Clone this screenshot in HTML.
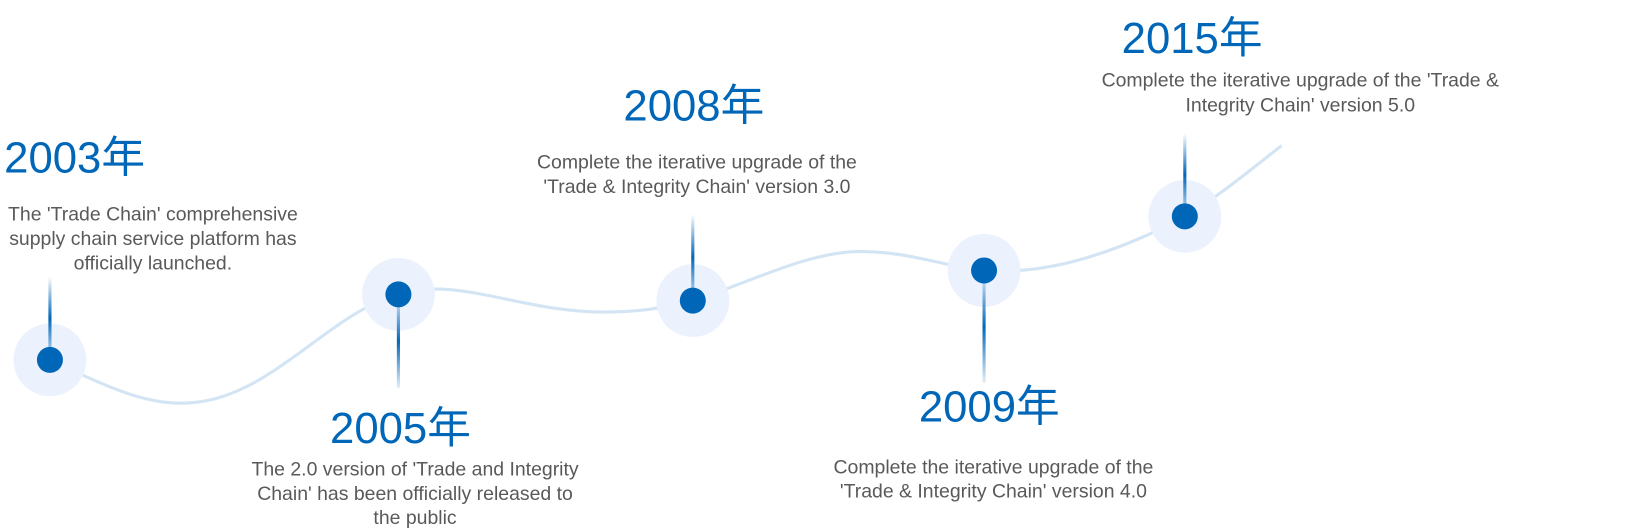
<!DOCTYPE html>
<html><head><meta charset="utf-8"><style>
html,body{margin:0;padding:0;background:#fff;}
svg{display:block}
.y{font-family:"Liberation Sans","Noto Sans CJK SC",sans-serif;font-size:42px;fill:#0066b8;}
.d{font-family:"Liberation Sans",sans-serif;font-size:18.7px;fill:#595959;}
</style></head><body>
<svg width="1629" height="531" viewBox="0 0 1566 510.5" preserveAspectRatio="none" xmlns="http://www.w3.org/2000/svg">
<defs>
<linearGradient id="gv" x1="0" y1="0" x2="0" y2="1">
<stop offset="0" stop-color="#0066b8" stop-opacity="0"/>
<stop offset="0.5" stop-color="#0066b8"/>
<stop offset="1" stop-color="#0066b8" stop-opacity="0.1"/>
</linearGradient>
</defs>
<path d="M48,346 C110,375 150,395 200,385 C270,370 320,300 383,283 C440,265 500,300 580,300 C620,300 640,295 666,289 C720,272 770,245 820,242 C870,240 910,257 946,260 C1010,265 1080,240 1139,208 C1170,190 1200,165 1232,140" fill="none" stroke="#d3e5f4" stroke-width="3"/>
<g fill="#ebf2fd">
<circle cx="48" cy="346" r="35"/><circle cx="383" cy="283" r="35"/><circle cx="666" cy="289" r="35"/><circle cx="946" cy="260" r="35"/><circle cx="1139" cy="208" r="35"/>
</g>
<rect x="46.5" y="266" width="3" height="80" fill="url(#gv)"/>
<rect x="381.5" y="283" width="3" height="90" fill="url(#gv)"/>
<rect x="664.5" y="206" width="3" height="83" fill="url(#gv)"/>
<rect x="944.5" y="260" width="3" height="108" fill="url(#gv)"/>
<rect x="1137.5" y="128" width="3" height="80" fill="url(#gv)"/>
<g fill="#0066b8">
<circle cx="48" cy="346" r="12.5"/><circle cx="383" cy="283" r="12.5"/><circle cx="666" cy="289" r="12.5"/><circle cx="946" cy="260" r="12.5"/><circle cx="1139" cy="208" r="12.5"/>
</g>
<text class="y" x="4" y="166">2003年</text>
<g class="d" text-anchor="middle">
<text x="147" y="212">The 'Trade Chain' comprehensive</text>
<text x="147" y="235.5">supply chain service platform has</text>
<text x="147" y="259">officially launched.</text>
</g>
<text class="y" x="385" y="426" text-anchor="middle">2005年</text>
<g class="d" text-anchor="middle">
<text x="399" y="457">The 2.0 version of 'Trade and Integrity</text>
<text x="399" y="480.5">Chain' has been officially released to</text>
<text x="399" y="504">the public</text>
</g>
<text class="y" x="667" y="116" text-anchor="middle">2008年</text>
<g class="d" text-anchor="middle">
<text x="670" y="162">Complete the iterative upgrade of the</text>
<text x="670" y="185.5">'Trade &amp; Integrity Chain' version 3.0</text>
</g>
<text class="y" x="951" y="405" text-anchor="middle">2009年</text>
<g class="d" text-anchor="middle">
<text x="955" y="455">Complete the iterative upgrade of the</text>
<text x="955" y="478.5">'Trade &amp; Integrity Chain' version 4.0</text>
</g>
<text class="y" x="1146" y="51" text-anchor="middle">2015年</text>
<g class="d" text-anchor="middle">
<text x="1250" y="83">Complete the iterative upgrade of the 'Trade &amp;</text>
<text x="1250" y="107">Integrity Chain' version 5.0</text>
</g>
</svg>
</body></html>
